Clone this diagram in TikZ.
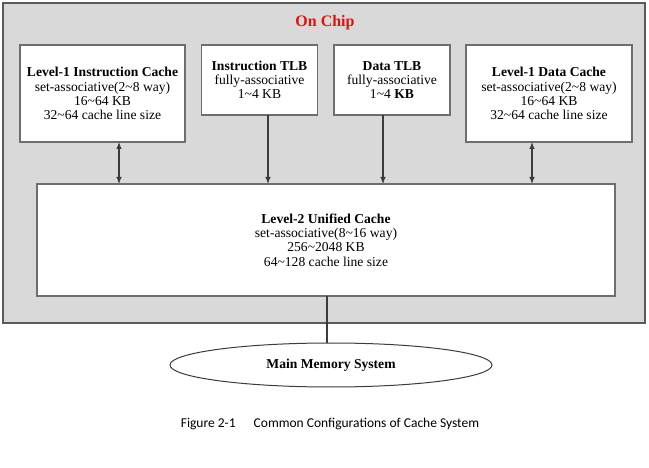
\documentclass[tikz,border=0pt]{standalone}
\usepackage{fontspec}
\setmainfont{Liberation Serif}
\newfontfamily\capfont{Carlito}
\usetikzlibrary{shapes.geometric,arrows.meta,calc}
\definecolor{chipgray}{HTML}{D9D9D9}
\definecolor{edgegray}{HTML}{5A5A5A}
\definecolor{boxedge}{HTML}{6E6E6E}
\definecolor{linegray}{HTML}{3C3C3C}
\definecolor{chipred}{HTML}{E01010}
\begin{document}
\begin{tikzpicture}[x=1pt,y=-1pt,
  chip/.style={draw=edgegray, line width=1.3pt, fill=chipgray, inner sep=0pt, outer sep=0pt},
  cachebox/.style={draw=boxedge, line width=1.4pt, fill=white, inner sep=0pt, outer sep=0pt,
     align=center, font=\fontsize{13.6}{14.3}\selectfont},
  memnode/.style={ellipse, draw=linegray, line width=1pt, fill=white, inner sep=0pt, outer sep=0pt,
     minimum width=322pt, minimum height=44pt, font=\bfseries\fontsize{13.6}{14}\selectfont},
  conn/.style={draw=linegray, line width=1.1pt},
  downarrow/.style={conn, -{Latex[length=7pt,width=5.5pt]}},
  biarrow/.style={conn, {Latex[length=7pt,width=5.5pt]}-{Latex[length=7pt,width=5.5pt]}},
  titletext/.style={text=chipred, font=\bfseries\fontsize{16}{18}\selectfont},
  captext/.style={font=\capfont\fontsize{13.5}{16}\selectfont}
]
\useasboundingbox (0,0) rectangle (649,468);
\fill[white] (0,0) rectangle (649,468);

% on-chip area
\node[chip, minimum width=642pt, minimum height=320pt] (chip) at (324,163) {};
\node[titletext] (title) at (325,23) {On Chip};

% level-1 and TLB boxes
\node[cachebox, minimum width=165pt, minimum height=97pt] (l1i) at (102.5,93.5)
  {\textbf{Level-1 Instruction Cache}\\set-associative(2\textasciitilde8 way)\\16\textasciitilde64 KB\\32\textasciitilde64 cache line size};
\node[cachebox, minimum width=116pt, minimum height=70pt] (itlb) at (259.5,80)
  {\textbf{Instruction TLB}\\fully-associative\\1\textasciitilde4 KB};
\node[cachebox, minimum width=116pt, minimum height=70pt] (dtlb) at (392,80)
  {\textbf{Data TLB}\\fully-associative\\1\textasciitilde4 \textbf{KB}};
\node[cachebox, minimum width=166pt, minimum height=97pt] (l1d) at (549,93.5)
  {\textbf{Level-1 Data Cache}\\set-associative(2\textasciitilde8 way)\\16\textasciitilde64 KB\\32\textasciitilde64 cache line size};

% level-2
\node[cachebox, minimum width=578pt, minimum height=112pt] (l2) at (326,240)
  {\textbf{Level-2 Unified Cache}\\set-associative(8\textasciitilde16 way)\\256\textasciitilde2048 KB\\64\textasciitilde128 cache line size};

% main memory
\node[memnode] (mm) at (331,365) {Main Memory System};

% connectors
\draw[biarrow] ([xshift=16.5pt]l1i.south) -- ([xshift=16.5pt]l1i.south |- l2.north);
\draw[downarrow] ([xshift=8.5pt]itlb.south) -- ([xshift=8.5pt]itlb.south |- l2.north);
\draw[downarrow] ([xshift=-9pt]dtlb.south) -- ([xshift=-9pt]dtlb.south |- l2.north);
\draw[biarrow] ([xshift=-17pt]l1d.south) -- ([xshift=-17pt]l1d.south |- l2.north);
\draw[conn] ([xshift=1pt]l2.south) -- ([xshift=1pt]l2.south |- mm.north);

% caption
\node[captext] (cap) at (330,424) {Figure 2-1\hspace{18pt}Common Configurations of Cache System};
\end{tikzpicture}
\end{document}
